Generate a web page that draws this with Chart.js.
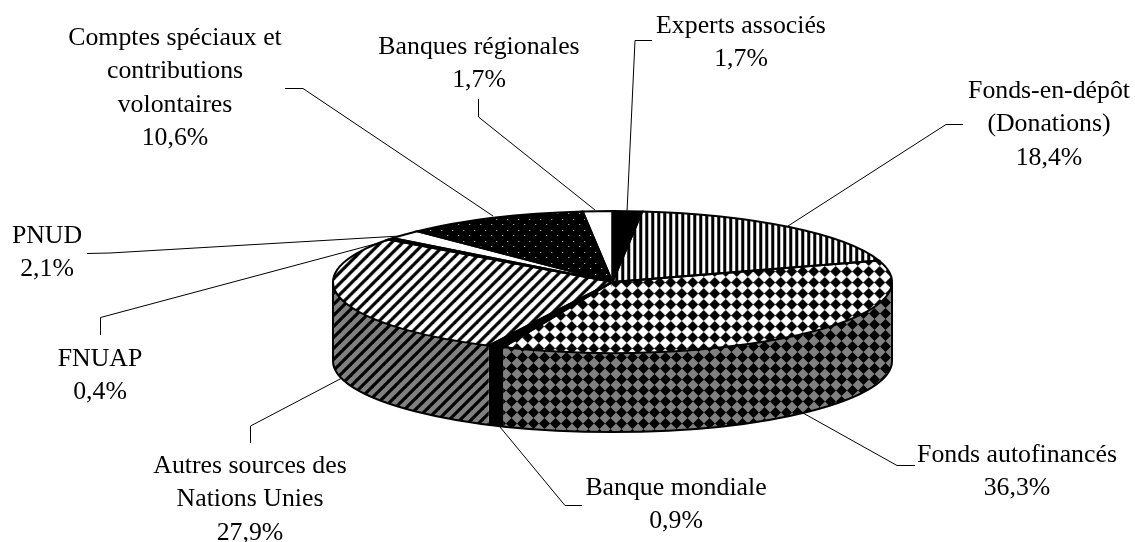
<!DOCTYPE html>
<html>
<head>
<meta charset="utf-8">
<title>Sources de financement</title>
<script src="https://cdn.jsdelivr.net/npm/chart.js@4"></script>
<style>
    html, body { margin: 0; padding: 0; background: #fff; }
    canvas { display: block; }
</style>
</head>
<body>
<canvas id="pie3d" width="1135" height="542"></canvas>
<script>
// data, clockwise from the top
const categories = ['Experts associés', 'Fonds-en-dépôt (Donations)', 'Fonds autofinancés', 'Banque mondiale',
    'Autres sources des Nations Unies', 'FNUAP', 'PNUD', 'Comptes spéciaux et contributions volontaires', 'Banques régionales'];
const shares = [1.7, 18.4, 36.3, 0.9, 27.9, 0.4, 2.1, 10.6, 1.7];

// how each category name is broken over lines in its label
const labelLines = [
    ['Experts associés'],
    ['Fonds-en-dépôt', '(Donations)'],
    ['Fonds autofinancés'],
    ['Banque mondiale'],
    ['Autres sources des', 'Nations Unies'],
    ['FNUAP'],
    ['PNUD'],
    ['Comptes spéciaux et', 'contributions', 'volontaires'],
    ['Banques régionales']
];

// label centre (x, y of first line) and leader line for each slice
const labelPos = [[741, 26], [1049, 91], [1017, 455], [676, 488], [250, 466], [100, 359], [47, 236], [175, 38], [479, 47]];
const leaders = [
    [[652, 40.5], [635, 40.5], [627, 212]],
    [[963, 124.5], [946, 124.5], [788, 226]],
    [[915, 465.5], [897, 465.5], [803, 413]],
    [[582, 505.5], [565, 505.5], [500, 427]],
    [[250.5, 443], [250.5, 426], [342, 378]],
    [[100.5, 335], [100.5, 317.5], [390, 240]],
    [[87, 253.5], [110, 253], [400, 236]],
    [[285, 88.5], [303, 88.5], [493, 216]],
    [[478.5, 99], [478.5, 117], [595, 210]]
];

// the flattened disc
const cx = 612.5, cy = 282, rx = 279.5, ry = 71, depth = 79;
const LINE_HEIGHT = 33.5;
const GREY = '#808080';

function tile(w, h, paint) {
    const c = document.createElement('canvas');
    c.width = w;
    c.height = h;
    paint(c.getContext('2d'), w, h);
    return c;
}

function makeTiles(bg) {
    return {
        solid: tile(4, 4, (t, w, h) => { t.fillStyle = '#000'; t.fillRect(0, 0, w, h); }),
        plain: tile(4, 4, (t, w, h) => { t.fillStyle = bg; t.fillRect(0, 0, w, h); }),
        vertical: tile(6, 6, (t, w, h) => {
            t.fillStyle = bg; t.fillRect(0, 0, w, h);
            t.fillStyle = '#000'; t.fillRect(0, 0, 3, h);
        }),
        diamonds: tile(11, 11, (t, w, h) => {
            t.fillStyle = bg; t.fillRect(0, 0, w, h);
            t.fillStyle = '#000';
            t.beginPath();
            t.moveTo(0, 5.5);
            t.lineTo(5.5, 0);
            t.lineTo(11, 5.5);
            t.lineTo(5.5, 11);
            t.closePath();
            t.fill();
        }),
        diagonal: tile(11, 11, (t, w, h) => {
            t.fillStyle = bg; t.fillRect(0, 0, w, h);
            t.strokeStyle = '#000';
            t.lineWidth = 3.2;
            [-11, 0, 11].forEach(o => {
                t.beginPath();
                t.moveTo(o - 2, h + 2);
                t.lineTo(o + w + 2, -2);
                t.stroke();
            });
        }),
        dots: tile(11, 11, (t, w, h) => {
            t.fillStyle = '#000'; t.fillRect(0, 0, w, h);
            t.fillStyle = '#d8d8d8';
            t.fillRect(2, 2, 1, 1);
            t.fillRect(7, 8, 1, 1);
        })
    };
}

const canvas = document.getElementById('pie3d');
const ctx = canvas.getContext('2d');
const topTiles = makeTiles('#fff');
const wallTiles = makeTiles(GREY);
const sliceTiles = ['solid', 'vertical', 'diamonds', 'solid', 'diagonal', 'solid', 'plain', 'dots', 'plain'];

// chart radius is min(w, h) / 2 with no padding
const sx = rx / (canvas.height / 2), sy = ry / (canvas.height / 2);
const topFills = sliceTiles.map(name => {
    const p = ctx.createPattern(topTiles[name], 'repeat');
    p.setTransform(new DOMMatrix().scale(1 / sx, 1 / sy)); // keep the hatch square on the squashed disc
    return p;
});

const disc3d = {
    id: 'disc3d',
    beforeDatasetsDraw(chart) {
        const c = chart.ctx;
        const arcs = chart.getDatasetMeta(0).data;

        // side wall, only the part of each slice that faces us
        arcs.forEach((arc, i) => {
            const a0 = Math.max(arc.startAngle, 0);
            const a1 = Math.min(arc.endAngle, Math.PI);
            if (a1 <= a0) return;
            c.beginPath();
            c.ellipse(cx, cy, rx, ry, 0, a0, a1);
            c.ellipse(cx, cy + depth, rx, ry, 0, a1, a0, true);
            c.closePath();
            c.fillStyle = c.createPattern(wallTiles[sliceTiles[i]], 'repeat');
            c.fill();
        });
        c.beginPath();
        c.moveTo(cx + rx, cy);
        c.lineTo(cx + rx, cy + depth);
        c.ellipse(cx, cy + depth, rx, ry, 0, 0, Math.PI);
        c.lineTo(cx - rx, cy);
        c.strokeStyle = '#000';
        c.lineWidth = 2;
        c.stroke();

        // the library draws the top face, squashed
        const arc0 = arcs[0];
        c.save();
        c.translate(cx, cy);
        c.scale(sx, sy);
        c.translate(-arc0.x, -arc0.y);
    },
    afterDatasetsDraw(chart) {
        const c = chart.ctx;
        c.restore();

        const arcs = chart.getDatasetMeta(0).data;
        c.strokeStyle = '#000';
        c.lineWidth = 2;
        arcs.forEach(arc => {
            c.beginPath();
            c.moveTo(cx, cy);
            c.ellipse(cx, cy, rx, ry, 0, arc.startAngle, arc.endAngle);
            c.closePath();
            c.stroke();
        });

        // leader lines
        c.lineWidth = 1;
        leaders.forEach(pts => {
            c.beginPath();
            pts.forEach((p, i) => (i ? c.lineTo(p[0], p[1]) : c.moveTo(p[0], p[1])));
            c.stroke();
        });

        // labels
        c.fillStyle = '#000';
        c.font = '25.8px "Liberation Serif"';
        c.textAlign = 'center';
        c.textBaseline = 'middle';
        shares.forEach((v, i) => {
            const lines = labelLines[i].concat(v.toFixed(1).replace('.', ',') + '%');
            lines.forEach((txt, n) => c.fillText(txt, labelPos[i][0], labelPos[i][1] + n * LINE_HEIGHT));
        });
    }
};

new Chart(ctx, {
    type: 'pie',
    data: {
        labels: categories,
        datasets: [{
            data: shares,
            backgroundColor: topFills,
            borderWidth: 0,
            clip: false
        }]
    },
    options: {
        responsive: false,
        animation: false,
        plugins: {
            legend: { display: false },
            tooltip: { enabled: false }
        }
    },
    plugins: [disc3d]
});
</script>
</body>
</html>
